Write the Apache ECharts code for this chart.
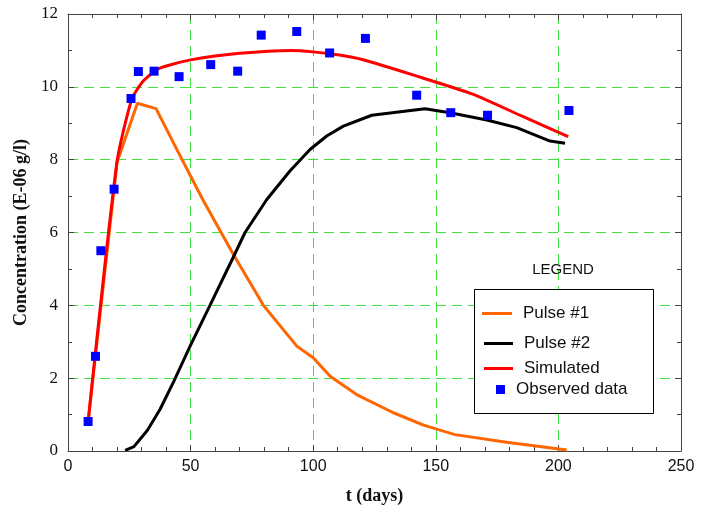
<!DOCTYPE html>
<html>
<head>
<meta charset="utf-8">
<script src="https://cdn.jsdelivr.net/npm/echarts@6/dist/echarts.min.js"></script>
<style>
  html, body { margin: 0; padding: 0; background: #fff; }
  #main { width: 710px; height: 510px; }
</style>
</head>
<body>
<div id="main"></div>
<script>
// values (t in days, concentration in E-06 g/l)
var pulse1T = [8.3, 20, 28.3, 35.9, 45, 55, 67.4, 79.7, 93.3, 100, 106.9, 117.7, 132.7, 145, 157.8, 178.9, 203.4];
var pulse1C = [0.87, 7.93, 9.55, 9.4, 8.2, 6.9, 5.4, 4.0, 2.88, 2.56, 2.05, 1.55, 1.05, 0.71, 0.45, 0.24, 0.03];

var pulse2T = [23.3, 26.9, 32.4, 37.5, 43, 49.8, 57.9, 67.4, 72.2, 81, 90.5, 98.7, 105.5, 112.3, 123.9, 145.6, 155.8, 170.8, 183, 196.6, 202.7];
var pulse2C = [0.02, 0.12, 0.57, 1.14, 1.89, 2.88, 4.0, 5.32, 6.0, 6.9, 7.69, 8.28, 8.65, 8.92, 9.22, 9.4, 9.29, 9.09, 8.88, 8.51, 8.45];

var simT = [8.3, 20, 26, 30.7, 37, 50, 70, 91, 100, 110, 120, 142, 165, 185, 204];
var simC = [0.87, 7.95, 9.66, 10.16, 10.5, 10.74, 10.92, 11.0, 10.96, 10.88, 10.75, 10.3, 9.8, 9.2, 8.63];

var obsT = [8.2, 11.2, 13.4, 18.8, 25.7, 28.7, 35.1, 45.3, 58.2, 69.2, 78.8, 93.3, 106.7, 121.3, 142.2, 156.1, 171.1, 204.3];
var obsC = [0.81, 2.6, 5.5, 7.19, 9.68, 10.42, 10.43, 10.28, 10.61, 10.43, 11.42, 11.52, 10.93, 11.33, 9.77, 9.29, 9.22, 9.35];

function zip(a, b) {
  var out = [];
  for (var i = 0; i < a.length; i++) out.push([a[i], b[i]]);
  return out;
}

var serif = '"Liberation Serif", "DejaVu Serif", serif';
var sans = '"Liberation Sans", Arial, sans-serif';
var gridGreen = '#3fe23f';

var chart = echarts.init(document.getElementById('main'));

function legendAt(name, left, top, iconW, iconH) {
  return {
    data: [{ name: name, icon: 'rect' }],
    left: left,
    top: top,
    padding: 0,
    itemWidth: iconW,
    itemHeight: iconH,
    selectedMode: false,
    textStyle: { fontFamily: sans, fontSize: 17, color: '#111', padding: [0, 0, 0, 6] }
  };
}

chart.setOption({
  animation: false,
  grid: { left: 68, right: 29, top: 14, bottom: 58 },
  title: {
    text: 'LEGEND',
    left: 563,
    top: 262,
    textAlign: 'center',
    padding: 0,
    textStyle: { fontFamily: sans, fontSize: 15, fontWeight: 'normal', color: '#111' }
  },
  legend: [
    legendAt('Pulse #1', 482, 305, 30, 3),
    legendAt('Pulse #2', 484, 335, 29, 3),
    legendAt('Simulated', 484, 360, 29, 3),
    legendAt('Observed data', 496, 381, 9, 9)
  ],
  graphic: [{
    type: 'rect',
    z: 3,
    shape: { x: 474.5, y: 289.5, width: 179, height: 124 },
    style: { fill: '#fff', stroke: '#000', lineWidth: 1 }
  }],
  xAxis: [{
    type: 'value',
    min: 0, max: 250, interval: 50,
    name: 't (days)',
    nameLocation: 'middle',
    nameGap: 36,
    nameTextStyle: { fontFamily: serif, fontSize: 18, fontWeight: 'bold', color: '#111' },
    axisLine: { onZero: false, lineStyle: { color: '#444', width: 1 } },
    axisTick: { inside: true, length: 6, lineStyle: { color: '#444' } },
    minorTick: { show: true, splitNumber: 5, length: 4, lineStyle: { color: '#444' } },
    axisLabel: { fontFamily: sans, fontSize: 16, color: '#111', margin: 8 },
    splitLine: { show: true, lineStyle: { color: gridGreen, type: [10, 6], width: 1 } }
  }, {
    type: 'value',
    position: 'top',
    min: 0, max: 250, interval: 50,
    axisLine: { onZero: false, lineStyle: { color: '#444', width: 1 } },
    axisTick: { inside: true, length: 6, lineStyle: { color: '#444' } },
    minorTick: { show: true, splitNumber: 5, length: 4, lineStyle: { color: '#444' } },
    axisLabel: { show: false },
    splitLine: { show: false }
  }],
  yAxis: [{
    type: 'value',
    min: 0, max: 12, interval: 2,
    name: 'Concentration (E-06 g/l)',
    nameLocation: 'middle',
    nameGap: 36,
    nameTextStyle: { fontFamily: serif, fontSize: 18, fontWeight: 'bold', color: '#111' },
    axisLine: { show: true, onZero: false, lineStyle: { color: '#444', width: 1 } },
    axisTick: { show: true, inside: true, length: 6, lineStyle: { color: '#444' } },
    minorTick: { show: true, splitNumber: 2, length: 4, lineStyle: { color: '#444' } },
    axisLabel: { fontFamily: serif, fontSize: 17, color: '#111', margin: 10 },
    splitLine: { show: true, lineStyle: { color: gridGreen, type: [10, 6], width: 1 } }
  }, {
    type: 'value',
    position: 'right',
    min: 0, max: 12, interval: 2,
    axisLine: { show: true, onZero: false, lineStyle: { color: '#444', width: 1 } },
    axisTick: { show: true, inside: true, length: 6, lineStyle: { color: '#444' } },
    minorTick: { show: true, splitNumber: 2, length: 4, lineStyle: { color: '#444' } },
    axisLabel: { show: false },
    splitLine: { show: false }
  }],
  series: [{
    name: 'Pulse #1',
    type: 'line',
    data: zip(pulse1T, pulse1C),
    symbol: 'none',
    lineStyle: { color: '#ff6600', width: 3 },
    itemStyle: { color: '#ff6600' },
    z: 2
  }, {
    name: 'Pulse #2',
    type: 'line',
    data: zip(pulse2T, pulse2C),
    symbol: 'none',
    lineStyle: { color: '#000', width: 3 },
    itemStyle: { color: '#000' },
    z: 2
  }, {
    name: 'Simulated',
    type: 'line',
    data: zip(simT, simC),
    symbol: 'none',
    smooth: 0.2,
    lineStyle: { color: '#ff0000', width: 3 },
    itemStyle: { color: '#ff0000' },
    z: 3
  }, {
    name: 'Observed data',
    type: 'scatter',
    data: zip(obsT, obsC),
    symbol: 'rect',
    symbolSize: 9,
    itemStyle: { color: '#0000ff', opacity: 1 },
    z: 4
  }]
});
</script>
</body>
</html>
